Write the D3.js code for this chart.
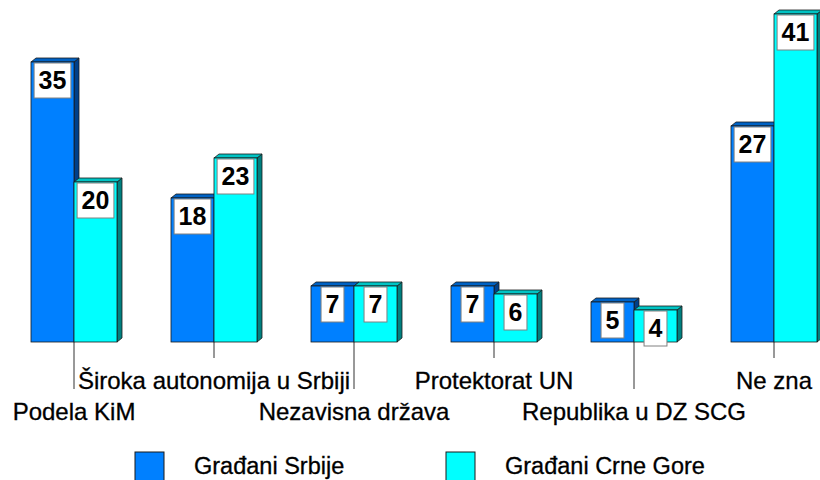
<!DOCTYPE html>
<html>
<head>
<meta charset="utf-8">
<script src="https://cdn.jsdelivr.net/npm/d3@7"></script>
<style>
  html, body { margin: 0; padding: 0; background: #fff; }
  svg { display: block; font-family: Arial, "Liberation Sans", sans-serif; }
</style>
</head>
<body>
<svg id="chart" width="820" height="480"></svg>
<script>
const categories = ["Podela KiM", "Široka autonomija u Srbiji", "Nezavisna država", "Protektorat UN", "Republika u DZ SCG", "Ne zna"];
const seriesNames = ["Građani Srbije", "Građani Crne Gore"];
const serbiaValues = [35, 18, 7, 7, 5, 27];
const montenegroValues = [20, 23, 7, 6, 4, 41];

const colors = [
  { front: "#0080FF", top: "#0062C4", side: "#00408A" },
  { front: "#00FFFF", top: "#00C4C4", side: "#008080" }
];

const svg = d3.select("#chart");
const baseY = 342;
const depthX = 5, depthY = 4;

const x = d3.scaleBand().domain(categories).range([4, 844]).padding(0);
const xSub = d3.scaleBand().domain(seriesNames)
  .range([x.bandwidth() / 2 - 43, x.bandwidth() / 2 + 43]).padding(0);
const y = d3.scaleLinear().domain([0, 40]).range([baseY, baseY - 320]);

const data = categories.map((c, i) => ({
  cat: c,
  vals: [
    { s: seriesNames[0], v: serbiaValues[i], k: 0 },
    { s: seriesNames[1], v: montenegroValues[i], k: 1 }
  ]
}));

const bars = svg.append("g");
data.forEach(d => {
  d.vals.forEach(b => {
    const x0 = x(d.cat) + xSub(b.s);
    const x1 = x0 + xSub.bandwidth();
    const yt = y(b.v);
    const g = bars.append("g");
    const c = colors[b.k];
    g.append("path")
      .attr("d", `M${x1},${baseY} L${x1},${yt} L${x1 + depthX},${yt - depthY} L${x1 + depthX},${baseY - depthY} Z`)
      .attr("fill", c.side).attr("stroke", "#1a1a1a").attr("stroke-width", 0.8);
    g.append("path")
      .attr("d", `M${x0},${yt} L${x0 + depthX},${yt - depthY} L${x1 + depthX},${yt - depthY} L${x1},${yt} Z`)
      .attr("fill", c.top).attr("stroke", "#1a1a1a").attr("stroke-width", 0.8);
    g.append("rect")
      .attr("x", x0).attr("y", yt)
      .attr("width", x1 - x0).attr("height", baseY - yt)
      .attr("fill", c.front).attr("stroke", "#1a1a1a").attr("stroke-width", 0.8);
  });
});

// axis with staggered labels
const axis = d3.axisBottom(x).tickSizeOuter(0).tickPadding(0);
const axG = svg.append("g").attr("transform", `translate(0,${baseY})`).call(axis);
axG.select(".domain").remove();
axG.selectAll(".tick line")
  .attr("stroke", "#333")
  .attr("y2", (d, i) => i % 2 === 0 ? 47 : 16);
axG.selectAll(".tick text")
  .attr("fill", "#000")
  .attr("stroke", "#000").attr("stroke-width", 0.3)
  .attr("font-size", 24)
  .attr("font-family", "Arial, 'Liberation Sans', sans-serif")
  .attr("dy", null)
  .attr("y", (d, i) => i % 2 === 0 ? 78 : 47);

// value labels
const labels = svg.append("g");
data.forEach(d => {
  d.vals.forEach(b => {
    const cx = x(d.cat) + xSub(b.s) + xSub.bandwidth() / 2;
    const yt = y(b.v);
    const g = labels.append("g");
    const rect = g.append("rect");
    const t = g.append("text")
      .attr("x", cx).attr("y", yt + 27)
      .attr("text-anchor", "middle")
      .attr("font-size", 25).attr("font-weight", "bold")
      .attr("fill", "#000")
      .text(b.v);
    const tw = t.node().getComputedTextLength();
    const bw = tw + 9;
    rect.attr("x", cx - bw / 2).attr("y", yt + 1)
      .attr("width", bw).attr("height", 35)
      .attr("fill", "#fff").attr("stroke", "#808080").attr("stroke-width", 1);
  });
});

// legend
const legendX = [135, 446];
const legend = svg.append("g");
seriesNames.forEach((s, i) => {
  legend.append("rect")
    .attr("x", legendX[i]).attr("y", 452)
    .attr("width", 29).attr("height", 29)
    .attr("fill", colors[i].front).attr("stroke", "#1a1a1a").attr("stroke-width", 1);
  legend.append("text")
    .attr("x", legendX[i] + 59).attr("y", 474)
    .attr("font-size", 23.5).attr("fill", "#000")
    .attr("stroke", "#000").attr("stroke-width", 0.3)
    .text(s);
});
</script>
</body>
</html>
